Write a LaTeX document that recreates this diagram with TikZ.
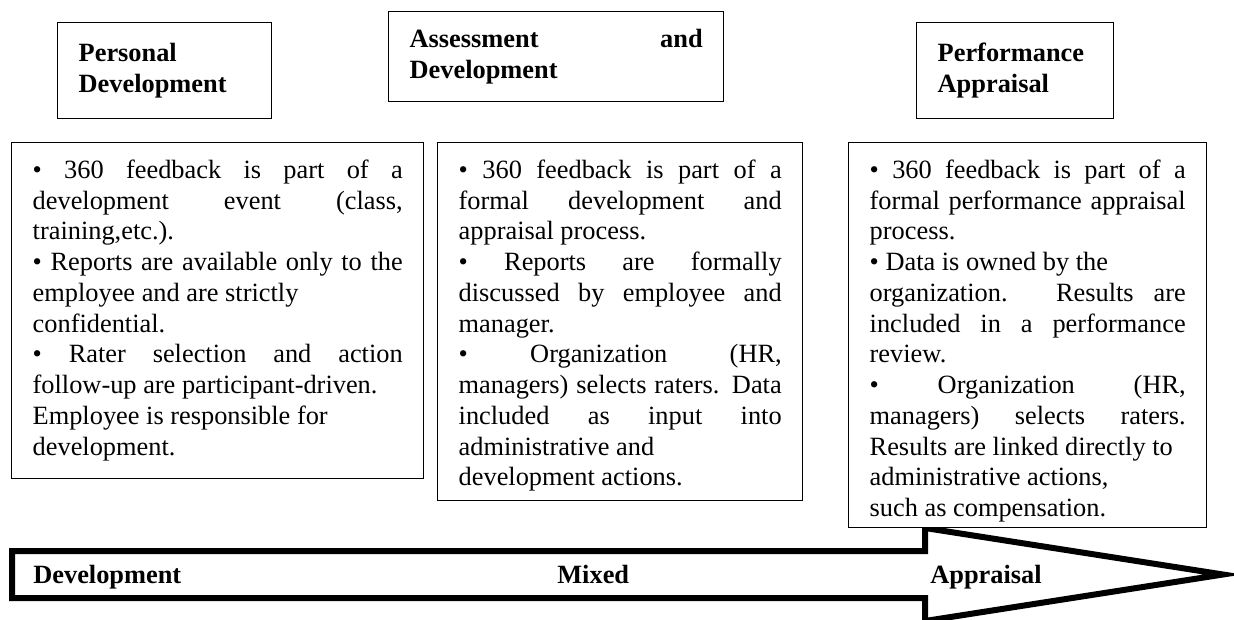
\documentclass[tikz,border=0pt]{standalone}
\usepackage{fontspec}
\setmainfont{Liberation Serif}
\usepackage{tikz}
\tolerance=10000
\hbadness=10000
\vbadness=10000
\newcommand{\bodytext}{\fontsize{15}{17.5}\selectfont}
\newcommand{\itemtext}[3]{\parbox[t][#1][t]{#2}{#3}}
\tikzset{
  head box/.style={
    draw,
    line width=0.8pt,
    fill=white,
    anchor=north west,
    inner xsep=0.42cm,
    align=justify,
    font=\bodytext\bfseries
  },
  item box/.style={
    draw,
    line width=0.8pt,
    fill=white,
    anchor=north west,
    inner xsep=0.42cm,
    inner ysep=0.34cm,
    font=\bodytext
  },
  scale label/.style={
    anchor=base west,
    inner sep=0pt,
    font=\bodytext\bfseries
  },
  scale arrow/.style={
    draw,
    line width=0.12cm,
    line join=miter
  }
}

\begin{document}
\begin{tikzpicture}

  \path[use as bounding box, fill=white] (0,0) rectangle (24.68,12.38);

  % Scale arrow
  \draw[scale arrow] (0.24,1.36) -- (18.50,1.36) -- (18.50,1.82) -- (24.46,0.89)
    -- (18.50,-0.04) -- (18.50,0.42) -- (0.24,0.42) -- cycle;
  \node[scale label] (devlabel) at (0.66,0.72) {Development};
  \node[scale label] (mixlabel) at (11.14,0.72) {Mixed};
  \node[scale label] (applabel) at (18.60,0.72) {Appraisal};

  % Headers
  \node[head box, text width=3.44cm, minimum height=1.92cm] (personal) at (1.14,11.94)
    {Personal\\Development};
  \node[head box, text width=5.86cm, minimum height=1.80cm] (assessment) at (7.76,12.16)
    {Assessment and\linebreak Development};
  \node[head box, text width=3.10cm, minimum height=1.92cm] (performance) at (18.32,11.94)
    {Performance\\Appraisal};

  % Item boxes
  \node[item box] (personalitems) at (0.22,9.54) {\itemtext{6.04cm}{7.40cm}{%
    • 360 feedback is part of a\linebreak
    development event (class,\linebreak
    training,etc.).\newline
    • Reports are available only to the\linebreak
    employee and are strictly\newline
    confidential.\newline
    • Rater selection and action\linebreak
    follow-up are participant-driven.\newline
    Employee is responsible for\newline
    development.}};
  \node[item box] (assessmentitems) at (8.74,9.54) {\itemtext{6.48cm}{6.46cm}{%
    • 360 feedback is part of a\linebreak
    formal development and\linebreak
    appraisal process.\newline
    • Reports are formally\linebreak
    discussed by employee and\linebreak
    manager.\newline
    • Organization (HR,\linebreak
    managers) selects raters. Data\linebreak
    included as input into\linebreak
    administrative and\newline
    development actions.}};
  \node[item box] (performanceitems) at (16.96,9.54) {\itemtext{7.02cm}{6.32cm}{%
    • 360 feedback is part of a\linebreak
    formal performance appraisal\linebreak
    process.\newline
    • Data is owned by the\newline
    organization. Results are\linebreak
    included in a performance\linebreak
    review.\newline
    • Organization (HR,\linebreak
    managers) selects raters.\linebreak
    Results are linked directly to\newline
    administrative actions,\newline
    such as compensation.}};

\end{tikzpicture}
\end{document}
